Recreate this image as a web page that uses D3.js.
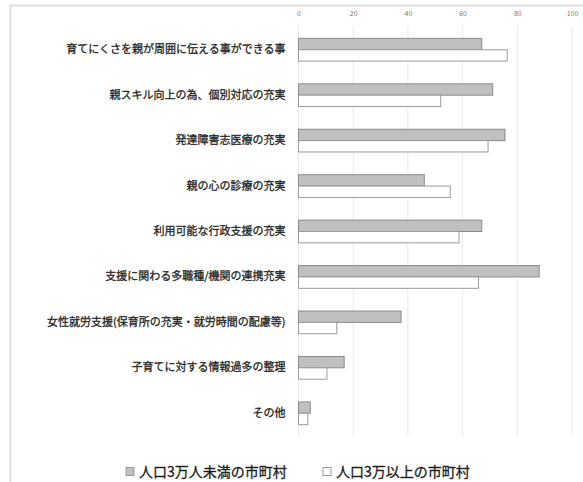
<!DOCTYPE html>
<html>
<head>
<meta charset="utf-8">
<script src="https://cdn.jsdelivr.net/npm/d3@7"></script>
<style>
body { margin: 0; background: #fff; }
text { font-family: "Noto Sans CJK JP", "Noto Sans", sans-serif; }
</style>
</head>
<body>
<div id="chart"></div>
<script>
const categories = [
	'育てにくさを親が周囲に伝える事ができる事',
	'親スキル向上の為、個別対応の充実',
	'発達障害志医療の充実',
	'親の心の診療の充実',
	'利用可能な行政支援の充実',
	'支援に関わる多職種/機関の連携充実',
	'女性就労支援(保育所の充実・就労時間の配慮等)',
	'子育てに対する情報過多の整理',
	'その他'
]
const small = [67, 71, 75.5, 46, 67, 88, 37.5, 16.7, 4.3]
const large = [76.3, 52, 69.3, 55.5, 58.7, 65.8, 14, 10.4, 3.4]
const seriesNames = ['人口3万人未満の市町村', '人口3万以上の市町村']
const xTicks = [0, 20, 40, 60, 80, 100]

const width = 583, height = 482

let svg = d3.select('#chart')
.append('svg')
.attr('width', width)
.attr('height', height)

// frame
svg.append('rect')
.attr('x', 10.5).attr('y', 5.5)
.attr('width', 600).attr('height', 500)
.attr('fill', 'none')
.attr('stroke', '#ddd')
.attr('stroke-width', 2)

let xScale = d3.scaleLinear()
.domain([0, 100])
.range([298.5, 572])

let yScale = d3.scaleBand()
.domain(categories)
.range([27, 436])
.paddingInner(0.5)
.paddingOuter(0.25)

// grid
svg.append('g')
.selectAll('line')
.data(xTicks)
.join('line')
.attr('x1', d => xScale(d)).attr('x2', d => xScale(d))
.attr('y1', 26).attr('y2', 436)
.attr('stroke', '#e8e8e8')

// top axis labels
svg.append('g')
.attr('transform', 'translate(0, 19)')
.call(d3.axisTop(xScale).tickValues(xTicks).tickSize(0))
.call(g => g.select('.domain').remove())
.call(g => g.selectAll('text')
	.attr('font-size', 7)
	.attr('fill', '#777')
	.attr('font-family', '"Liberation Serif", serif'))

let yAxis = svg.append('g')
.attr('transform', `translate(${xScale(0)}, 0)`)
.call(d3.axisLeft(yScale).tickSize(0).tickPadding(13))
yAxis.select('.domain').remove()
yAxis.selectAll('text')
.attr('font-size', 11)
.attr('fill', '#111')
.attr('stroke', '#333')
.attr('stroke-width', 0.3)

const bh = yScale.bandwidth() / 2

svg.append('g')
.selectAll('rect')
.data(small)
.join('rect')
.attr('x', xScale(0))
.attr('y', (d, i) => yScale(categories[i]))
.attr('width', d => xScale(d) - xScale(0))
.attr('height', bh)
.attr('fill', '#c0c0c0')
.attr('stroke', '#8a8a8a')
.attr('stroke-width', 1)

svg.append('g')
.selectAll('rect')
.data(large)
.join('rect')
.attr('x', xScale(0))
.attr('y', (d, i) => yScale(categories[i]) + bh)
.attr('width', d => xScale(d) - xScale(0))
.attr('height', bh)
.attr('fill', '#fff')
.attr('stroke', '#9a9a9a')
.attr('stroke-width', 1)

// legend
const legX = [126, 323]
const leg = svg.append('g')
.selectAll('g')
.data(seriesNames)
.join('g')
.attr('transform', (d, i) => `translate(${legX[i]}, 472)`)

leg.append('rect')
.attr('x', 0).attr('y', -4.5)
.attr('width', 8).attr('height', 8)
.attr('fill', (d, i) => i == 0 ? '#c0c0c0' : '#fff')
.attr('stroke', '#999')

leg.append('text')
.attr('x', 13)
.attr('dy', '0.35em')
.attr('font-size', 14)
.attr('fill', '#111')
.attr('stroke', '#333')
.attr('stroke-width', 0.3)
.text(d => d)
</script>
</body>
</html>
